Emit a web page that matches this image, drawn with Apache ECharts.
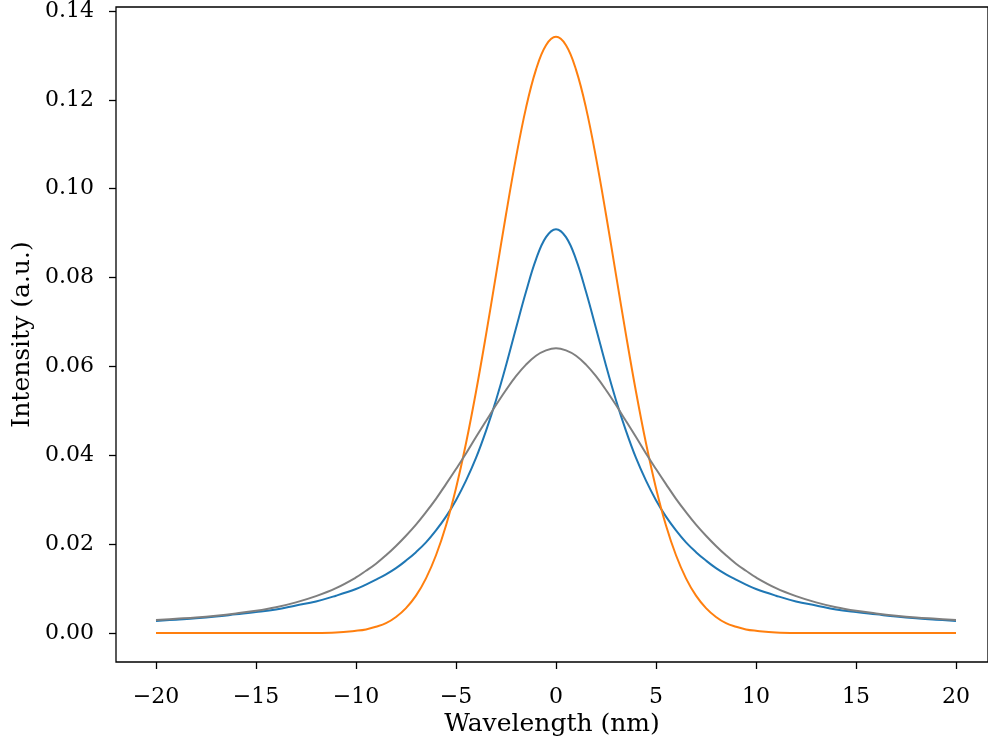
<!DOCTYPE html>
<html>
<head>
<meta charset="utf-8">
<script src="https://cdn.jsdelivr.net/npm/echarts@6/dist/echarts.min.js"></script>
<style>html,body{margin:0;padding:0;background:#fff}#c{width:988px;height:749px}</style>
</head>
<body>
<div id="c"></div>
<script>
// Wavelength samples (nm)
const wavelength = [-20,-19,-18,-17,-16,-15,-14,-13,-12,-11,-10,-9.5,-9,-8.5,-8,-7.5,-7,-6.5,-6,-5.5,-5,-4.5,-4,-3.5,-3,-2.5,-2,-1.5,-1,-0.5,0,0.5,1,1.5,2,2.5,3,3.5,4,4.5,5,5.5,6,6.5,7,7.5,8,8.5,9,9.5,10,11,12,13,14,15,16,17,18,19,20];
// Lorentzian profile (blue)
const lorentzian = [0.0027,0.0030,0.0033,0.0037,0.0042,0.0047,0.0053,0.0062,0.0071,0.0084,0.0099,0.0109,0.0120,0.0132,0.0146,0.0163,0.0182,0.0204,0.0231,0.0262,0.0299,0.0343,0.0394,0.0455,0.0524,0.0602,0.0686,0.0768,0.0841,0.0891,0.0909,0.0891,0.0841,0.0768,0.0686,0.0602,0.0524,0.0455,0.0394,0.0343,0.0299,0.0262,0.0231,0.0204,0.0182,0.0163,0.0146,0.0132,0.0120,0.0109,0.0099,0.0084,0.0071,0.0062,0.0053,0.0047,0.0042,0.0037,0.0033,0.0030,0.0027];
// Gaussian profile (orange)
const gaussian = [0,0,0,0,0,0,0,0,0,0.0001,0.0005,0.0008,0.0014,0.0022,0.0036,0.0056,0.0084,0.0123,0.0175,0.0242,0.0326,0.0427,0.0543,0.0671,0.0806,0.0942,0.1070,0.1182,0.1268,0.1323,0.1342,0.1323,0.1268,0.1182,0.1070,0.0942,0.0806,0.0671,0.0543,0.0427,0.0326,0.0242,0.0175,0.0123,0.0084,0.0056,0.0036,0.0022,0.0014,0.0008,0.0005,0.0001,0,0,0,0,0,0,0,0,0];
// Voigt profile (gray)
const voigt = [0.0029,0.0032,0.0035,0.0039,0.0044,0.0050,0.0058,0.0069,0.0083,0.0101,0.0125,0.0140,0.0156,0.0175,0.0196,0.0219,0.0244,0.0272,0.0302,0.0335,0.0369,0.0404,0.0441,0.0477,0.0513,0.0547,0.0578,0.0604,0.0624,0.0636,0.0641,0.0636,0.0624,0.0604,0.0578,0.0547,0.0513,0.0477,0.0441,0.0404,0.0369,0.0335,0.0302,0.0272,0.0244,0.0219,0.0196,0.0175,0.0156,0.0140,0.0125,0.0101,0.0083,0.0069,0.0058,0.0050,0.0044,0.0039,0.0035,0.0032,0.0029];
const xTicks = [-20,-15,-10,-5,0,5,10,15,20];
const yTicks = [0.00,0.02,0.04,0.06,0.08,0.10,0.12,0.14];

const FONT = 'DejaVu Serif';
const pairs = ys => wavelength.map((x,i)=>[x, ys[i]]);

const chart = echarts.init(document.getElementById('c'), null, {renderer:'canvas'});
const tickStyle = {show:true, inside:false, length:7, lineStyle:{color:'#000', width:1.3}};
chart.setOption({
  animation:false,
  backgroundColor:'#fff',
  grid:[
    {left:116, top:7, width:880, height:655, show:true, borderColor:'#000', borderWidth:1.3, backgroundColor:'transparent'},
    {left:156, top:11, width:800, height:622}
  ],
  xAxis:[
    {gridIndex:0, type:'value', min:-22, max:22, axisLine:{show:false, onZero:false}, axisTick:{show:false}, axisLabel:{show:false}, splitLine:{show:false},
     name:'Wavelength (nm)', nameLocation:'middle', nameGap:50, nameTextStyle:{fontFamily:FONT, fontSize:25, color:'#000'}},
    {gridIndex:1, type:'value', position:'bottom', min:xTicks[0], max:xTicks[xTicks.length-1], interval:5, offset:29,
     axisLine:{show:false, onZero:false}, axisTick:tickStyle, splitLine:{show:false},
     axisLabel:{margin:24, fontFamily:FONT, fontSize:22, color:'#000', formatter:v=>String(v).replace('-', '\u2212')}}
  ],
  yAxis:[
    {gridIndex:0, type:'value', min:-0.00671, max:0.14091, axisLine:{show:false, onZero:false}, axisTick:{show:false}, axisLabel:{show:false}, splitLine:{show:false},
     name:'Intensity (a.u.)', nameLocation:'middle', nameGap:81, nameTextStyle:{fontFamily:FONT, fontSize:25, color:'#000'}},
    {gridIndex:1, type:'value', position:'left', min:yTicks[0], max:yTicks[yTicks.length-1], interval:0.02, offset:40,
     axisLine:{show:false, onZero:false}, axisTick:tickStyle, splitLine:{show:false},
     axisLabel:{margin:22, fontFamily:FONT, fontSize:22, color:'#000', formatter:v=>v.toFixed(2)}}
  ],
  series:[
    {type:'line', xAxisIndex:1, yAxisIndex:1, data:pairs(lorentzian), smooth:0.4, showSymbol:false, lineStyle:{color:'#1f77b4', width:2}, clip:false},
    {type:'line', xAxisIndex:1, yAxisIndex:1, data:pairs(gaussian), smooth:0.4, showSymbol:false, lineStyle:{color:'#ff7f0e', width:2}, clip:false},
    {type:'line', xAxisIndex:1, yAxisIndex:1, data:pairs(voigt), smooth:0.4, showSymbol:false, lineStyle:{color:'#7f7f7f', width:2}, clip:false}
  ]
});
</script>
</body>
</html>
